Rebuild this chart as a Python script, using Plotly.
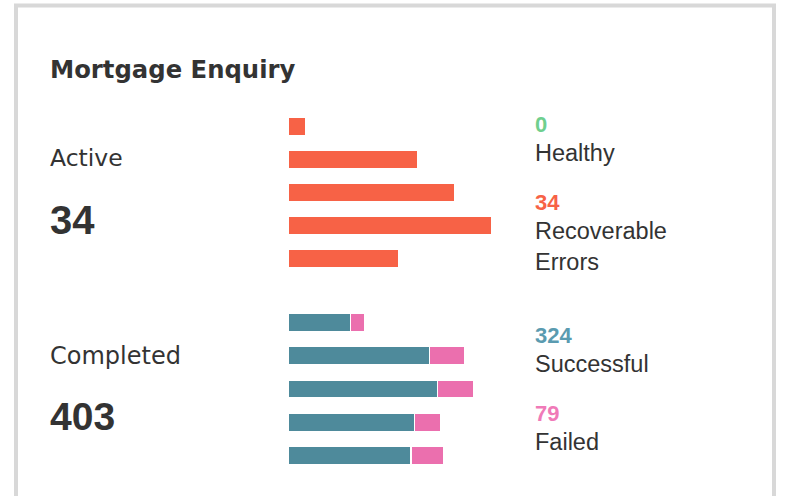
import plotly.graph_objects as go

W, H = 786, 496

# ---- data ----
rows = [0, 1, 2, 3, 4]
active_values = [9, 64, 82.5, 101, 55]
successful_values = [31, 70, 74, 62.5, 61]
failed_values = [7, 17.5, 18, 13, 16]

title_text = "Mortgage Enquiry"
active_label, active_total = "Active", "34"
completed_label, completed_total = "Completed", "403"
healthy_count, healthy_label = "0", "Healthy"
recoverable_count, recoverable_label = "34", "Recoverable<br>Errors"
successful_count, successful_label = "324", "Successful"
failed_count, failed_label = "79", "Failed"

ORANGE = "#f76246"
TEAL = "#4e8a9b"
PINK = "#eb6fae"
GREEN = "#6fcf8e"
DARK = "#333333"
FONT = "Liberation Sans, Arial, sans-serif"
WIDE = "DejaVu Sans, sans-serif"


def px(x):
    return x / W


def py(y):
    return 1 - y / H


fig = go.Figure()

fig.add_trace(go.Bar(x=active_values, y=rows, orientation="h",
                     marker=dict(color=ORANGE, line=dict(color="white", width=1.5)),
                     xaxis="x", yaxis="y", hoverinfo="skip", name="Active"))
fig.add_trace(go.Bar(x=successful_values, y=rows, orientation="h",
                     marker=dict(color=TEAL, line=dict(color="white", width=1.5)),
                     xaxis="x2", yaxis="y2", hoverinfo="skip", name="Successful"))
fig.add_trace(go.Bar(x=failed_values, y=rows, orientation="h",
                     marker=dict(color=PINK, line=dict(color="white", width=1.5)),
                     xaxis="x2", yaxis="y2", hoverinfo="skip", name="Failed"))

R = 120  # axis range in value units
SCALE = 2.02  # px per unit
x0 = 288
axis_common = dict(showgrid=False, zeroline=False, showticklabels=False,
                   showline=False, ticks="", fixedrange=True)

fig.update_layout(
    width=W, height=H, autosize=False,
    margin=dict(l=0, r=0, t=0, b=0),
    paper_bgcolor="white", plot_bgcolor="rgba(0,0,0,0)",
    showlegend=False, barmode="stack", bargap=0.45,
    xaxis=dict(domain=[px(x0), px(x0 + SCALE * R)], range=[0, R], anchor="y", **axis_common),
    yaxis=dict(domain=[py(275), py(110)], range=[4.5, -0.5], anchor="x", **axis_common),
    xaxis2=dict(domain=[px(x0), px(x0 + SCALE * R)], range=[0, R], anchor="y2", **axis_common),
    yaxis2=dict(domain=[py(472), py(306)], range=[4.5, -0.5], anchor="x2", **axis_common),
)

# card border
fig.add_shape(type="rect", xref="paper", yref="paper",
              x0=px(16), x1=px(774), y0=py(530), y1=py(5.5),
              line=dict(color="#d8d8d8", width=4), fillcolor="rgba(0,0,0,0)", layer="below")


def txt(x, y, text, size, color=DARK, bold=False, family=FONT):
    fig.add_annotation(x=px(x - 2), y=py(y), xref="paper", yref="paper",
                       text=f"<b>{text}</b>" if bold else text,
                       showarrow=False, xanchor="left", yanchor="middle", align="left",
                       font=dict(family=family, size=size, color=color))


txt(50, 69, title_text, 24.3, bold=True, family=WIDE)
txt(50, 158, active_label, 23.5, family=WIDE)
txt(50, 220, active_total, 40, bold=True)
txt(50, 356, completed_label, 24, family=WIDE)
txt(50, 416, completed_total, 39, bold=True)

txt(535, 124, healthy_count, 22, GREEN, bold=True)
txt(535, 153, healthy_label, 23.5)
txt(535, 202, recoverable_count, 22, ORANGE, bold=True)
txt(535, 246, recoverable_label, 23.5)
txt(535, 335, successful_count, 22, "#5a9bb0", bold=True)
txt(535, 364, successful_label, 23.5)
txt(535, 413, failed_count, 22, "#f07ab8", bold=True)
txt(535, 442, failed_label, 23.5)

fig.write_html("out.html", config={"displayModeBar": False},
               post_script="document.body.style.margin='0';document.body.style.overflow='hidden';")
